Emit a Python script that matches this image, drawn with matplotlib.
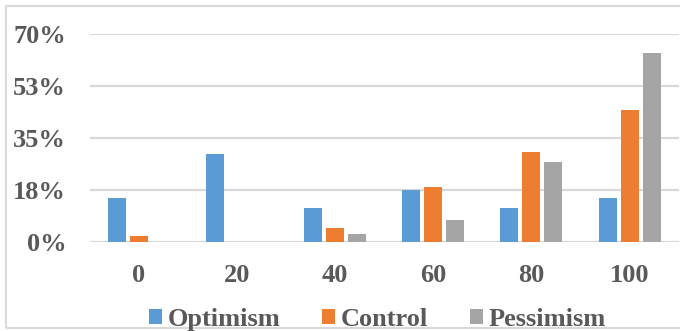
import numpy as np
import matplotlib.pyplot as plt
from matplotlib.patches import Rectangle

# Survey shares (%) per score bucket
levels = ["0", "20", "40", "60", "80", "100"]
optimism = [14.7, 29.6, 11.6, 17.6, 11.6, 14.8]
control = [2.1, 0.0, 4.7, 18.6, 30.3, 44.5]
pessimism = [0.0, 0.0, 2.6, 7.5, 26.9, 63.6]

ytick_vals = [0, 17.5, 35, 52.5, 70]
ytick_labels = ["0%", "18%", "35%", "53%", "70%"]

text_color = "#595959"
plt.rcParams["font.family"] = ["Liberation Serif", "DejaVu Serif"]
plt.rcParams["font.weight"] = "bold"

fig = plt.figure(figsize=(6.8, 3.31), dpi=100)
ax = fig.add_axes([0.132, 0.269, 0.866, 0.628])

x = np.arange(len(levels))
w = 0.184
off = 0.224
ax.bar(x - off, optimism, w, color="#5B9BD5", label="Optimism", zorder=3)
ax.bar(x, control, w, color="#ED7D31", label="Control", zorder=3)
ax.bar(x + off, pessimism, w, color="#A5A5A5", label="Pessimism", zorder=3)

ax.set_xlim(-0.5, len(levels) - 0.5)
ax.set_ylim(0, 70)
ax.set_yticks(ytick_vals)
ax.set_yticklabels(ytick_labels)
ax.set_xticks(x)
ax.set_xticklabels(levels)
ax.tick_params(length=0, labelsize=19, labelcolor=text_color)
ax.tick_params(axis="x", pad=16)
ax.tick_params(axis="y", pad=17)
for lab in ax.get_xticklabels() + ax.get_yticklabels():
    lab.set_fontweight("bold")

ax.grid(axis="y", color="#d9d9d9", linewidth=1.6, zorder=0)
for s in ax.spines.values():
    s.set_visible(False)

leg = fig.legend(loc="center", bbox_to_anchor=(0.555, 0.035), ncol=3, frameon=False,
                 handlelength=0.5, handleheight=0.5, handletextpad=0.2,
                 columnspacing=1.6, prop={"size": 19, "weight": "bold"})
for t in leg.get_texts():
    t.set_color(text_color)

# thin frame around the chart area
fig.add_artist(Rectangle((0.009, 0.009), 1.2, 0.972, transform=fig.transFigure,
                         fill=False, edgecolor="#d9d9d9", linewidth=1.5))

fig.savefig("out.png", dpi=100)
